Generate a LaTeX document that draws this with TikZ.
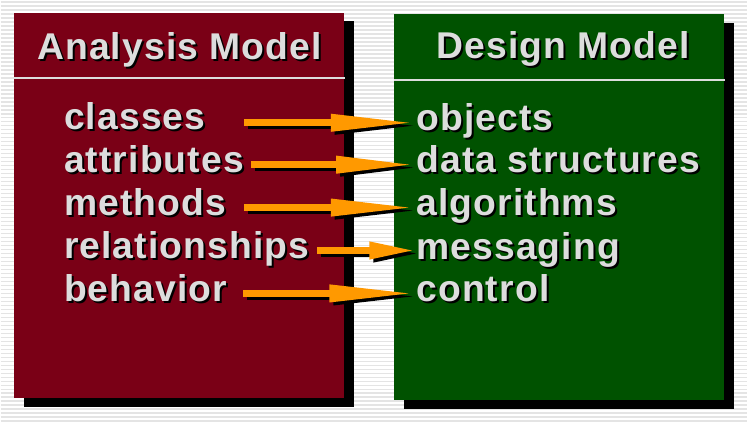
\documentclass[tikz,border=0pt]{standalone}
\usepackage{fontspec}
\setmainfont{Liberation Sans}[LetterSpace=3]
\usetikzlibrary{arrows.meta,calc}

\definecolor{anred}{RGB}{122,0,22}
\definecolor{desgreen}{RGB}{0,82,0}
\definecolor{lblgray}{RGB}{221,221,221}
\definecolor{arrorange}{RGB}{255,153,0}
\definecolor{stripegray}{RGB}{228,228,228}

\tikzset{every picture/.style={line width=0.75pt},
  lbl/.style={anchor=base west, inner sep=0pt, text=lblgray,
    font=\fontsize{28}{34}\selectfont\bfseries},
  arrfill/.style={draw=arrorange, line width=5.25pt},
  arrshadow/.style={draw=black, line width=5.25pt},
  sepline/.style={draw=lblgray, line width=1.5pt}
}

% text with a black drop shadow: name, position, text
\newcommand{\shlabel}[3]{%
  \node[lbl, text=black] (#1s) at ($(#2)+(2,2)$) {#3};
  \node[lbl] (#1) at (#2) {#3};
}
% block arrow with shadow: start, end, head length
\newcommand{\fatarrow}[3]{%
  \draw[arrshadow, -{Triangle[length=#3, width=12pt]}] ($(#1)+(4,3)$) -- ($(#2)+(4,3)$);
  \draw[arrfill, -{Triangle[length=#3, width=12pt]}] (#1) -- (#2);
}

\begin{document}
\begin{tikzpicture}[x=0.75pt,y=0.75pt,yscale=-1,xscale=1]
%Background with stripes
\fill[white] (0,0) rectangle (748,423);
\foreach \y in {2,6,...,422} {
  \draw[stripegray, line width=1.1pt] (0,\y) -- (748,\y);
}

%Shape: Rectangle (analysis model)
\fill[black] (23,21) rectangle (354,408);
\fill[anred] (13,13) rectangle (344,399);
\draw[sepline] (13,78) -- (345,78);
%Shape: Rectangle (design model)
\fill[black] (404,23) rectangle (735,410);
\fill[desgreen] (394,14) rectangle (725,401);
\draw[sepline] (394,80) -- (726,80);

% Text Node
\shlabel{antitle}{36,60}{Analysis Model}
\shlabel{destitle}{436,59}{Design Model}

% Text Node
\shlabel{classes}{63,130}{classes}
\shlabel{attributes}{63,173}{attributes}
\shlabel{methods}{63,216}{methods}
\shlabel{relationships}{63,259}{relationships}
\shlabel{behavior}{63,302}{behavior}

% Text Node
\shlabel{objects}{416,131}{objects}
\shlabel{datastruct}{416,173}{data structures}
\shlabel{algorithms}{416,216}{algorithms}
\shlabel{messaging}{416,260}{messaging}
\shlabel{control}{416,302}{control}

%Arrows
\coordinate (s1) at (244,123);
\coordinate (s2) at (251,165);
\coordinate (s3) at (244,208);
\coordinate (s4) at (317,251);
\coordinate (s5) at (243,294);
\coordinate (e1) at (s1 -| objects.west);
\coordinate (e2) at (s2 -| datastruct.west);
\coordinate (e3) at (s3 -| algorithms.west);
\coordinate (e4) at (s4 -| messaging.west);
\coordinate (e5) at (s5 -| control.west);
\fatarrow{s1}{e1}{64pt}
\fatarrow{s2}{e2}{60pt}
\fatarrow{s3}{e3}{64pt}
\fatarrow{s4}{e4}{35pt}
\fatarrow{s5}{e5}{65pt}

\end{tikzpicture}
\end{document}
